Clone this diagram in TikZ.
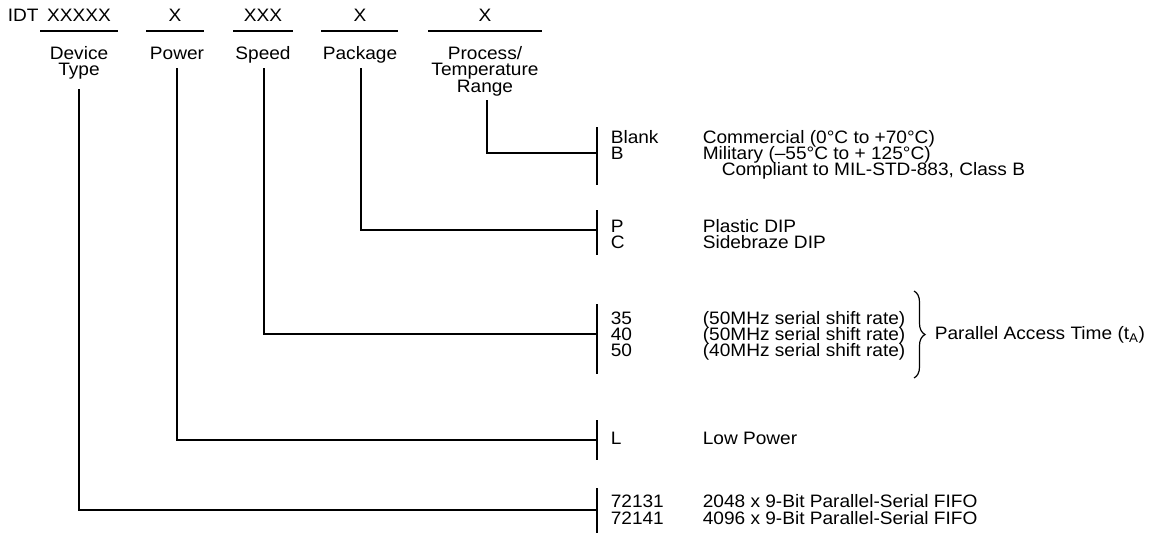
\documentclass[tikz,border=0pt]{standalone}
\usepackage{fontspec}
\setmainfont{Liberation Sans}[FakeStretch=1.06]
\usetikzlibrary{decorations.pathreplacing}
\begin{document}
\begin{tikzpicture}[x=1pt,y=-1pt,line width=1.6pt,
  every node/.style={inner sep=0pt, font=\fontsize{18}{16}\selectfont},
  hd/.style={anchor=north, align=center},
  codetxt/.style={anchor=base west},
  desctxt/.style={anchor=base west},
  wire/.style={line width=1.5pt},
  bar/.style={line width=1.6pt},
  brc/.style={decorate, decoration={brace, amplitude=11pt}, line width=1.2pt}]
\useasboundingbox (0,0) rectangle (1164,533);

% top row
\node[anchor=north west] (idt) at (7,8) {IDT};
\node[hd] (sDev) at (79,8) {XXXXX};
\node[hd] (sPow) at (175,8) {X};
\node[hd] (sSpd) at (263,8) {XXX};
\node[hd] (sPkg) at (360,8) {X};
\node[hd] (sPrc) at (485,8) {X};

\draw[wire] (40,31) -- (118,31);
\draw[wire] (146,31) -- (204,31);
\draw[wire] (233,31) -- (293,31);
\draw[wire] (321,31) -- (398,31);
\draw[wire] (428,31) -- (542,31);

% field labels
\node[hd] (lDev) at (79,46) {Device\\Type};
\node[hd] (lPow) at (177,46) {Power};
\node[hd] (lSpd) at (263,46) {Speed};
\node[hd] (lPkg) at (360,46) {Package};
\node[hd] (lPrc) at (485,46) {Process/\\Temperature\\Range};

% connector ends
\coordinate (tDev) at (79,89);
\coordinate (tPow) at (177,68);
\coordinate (tSpd) at (264,68);
\coordinate (tPkg) at (361,68);
\coordinate (tPrc) at (487,100);

\coordinate (jPrc) at (597,153);
\coordinate (jPkg) at (597,230);
\coordinate (jSpd) at (597,334);
\coordinate (jPow) at (597,440);
\coordinate (jDev) at (597,510);

\draw[wire] (tPrc) |- (jPrc);
\draw[wire] (tPkg) |- (jPkg);
\draw[wire] (tSpd) |- (jSpd);
\draw[wire] (tPow) |- (jPow);
\draw[wire] (tDev) |- (jDev);

% brackets
\draw[bar] (597,127) -- (597,185);
\draw[bar] (597,210) -- (597,255);
\draw[bar] (597,304) -- (597,374);
\draw[bar] (597,420) -- (597,460);
\draw[bar] (597,488) -- (597,533);

% process / temperature
\node[codetxt] (cBlank) at (610,143) {Blank};
\node[codetxt] (cB) at (610,159) {B};
\node[desctxt] (dCom) at (702,143) {Commercial (0°C to +70°C)};
\node[desctxt] (dMil) at (702,159) {Military (–55°C to + 125°C)};
\node[desctxt] (dMil2) at (721,175) {Compliant to MIL-STD-883, Class B};

% package
\node[codetxt] (cP) at (610,232) {P};
\node[codetxt] (cC) at (610,248) {C};
\node[desctxt] (dP) at (702,232) {Plastic DIP};
\node[desctxt] (dC) at (702,248) {Sidebraze DIP};

% speed
\node[codetxt] (c35) at (610,324) {35};
\node[codetxt] (c40) at (610,340) {40};
\node[codetxt] (c50) at (610,356) {50};
\node[desctxt] (d35) at (702,324) {(50MHz serial shift rate)};
\node[desctxt] (d40) at (702,340) {(50MHz serial shift rate)};
\node[desctxt] (d50) at (702,356) {(40MHz serial shift rate)};
\coordinate (bT) at (914,291);
\coordinate (bB) at (914,378);
\draw[brc] (bT) -- (bB);
\node[anchor=west] (pat) at (934,335) {Parallel Access Time (t\textsubscript{A})};

% power
\node[codetxt] (cL) at (610,444) {L};
\node[desctxt] (dL) at (702,444) {Low Power};

% device
\node[codetxt] (c1) at (610,507) {72131};
\node[codetxt] (c2) at (610,524) {72141};
\node[desctxt] (d1) at (702,507) {2048 x 9-Bit Parallel-Serial FIFO};
\node[desctxt] (d2) at (702,524) {4096 x 9-Bit Parallel-Serial FIFO};
\end{tikzpicture}
\end{document}
